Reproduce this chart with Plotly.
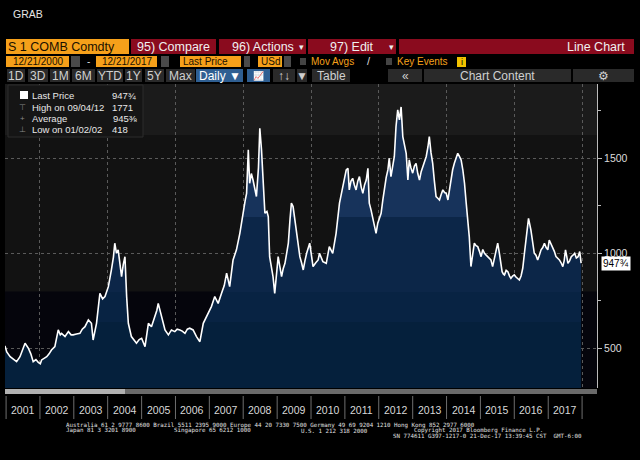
import plotly.graph_objects as go
import pandas as pd

# soybean front month (decimal year, cents/bu)
years = [
    2000.97, 2001.02, 2001.12, 2001.22, 2001.31, 2001.41, 2001.50, 2001.56, 2001.66, 2001.73,
    2001.80, 2001.88, 2001.95, 2002.01, 2002.05, 2002.12, 2002.20, 2002.27, 2002.34, 2002.44,
    2002.50, 2002.54, 2002.60, 2002.64, 2002.74, 2002.84, 2002.92, 2002.98, 2003.08, 2003.18,
    2003.25, 2003.33, 2003.43, 2003.52, 2003.57, 2003.62, 2003.67, 2003.77, 2003.85, 2003.92,
    2004.02, 2004.11, 2004.17, 2004.21, 2004.26, 2004.31, 2004.36, 2004.41, 2004.46, 2004.51,
    2004.56, 2004.61, 2004.70, 2004.78, 2004.85, 2004.93, 2005.00, 2005.10, 2005.20, 2005.29,
    2005.39, 2005.45, 2005.49, 2005.54, 2005.59, 2005.69, 2005.79, 2005.88, 2005.98, 2006.05,
    2006.13, 2006.20, 2006.28, 2006.35, 2006.42, 2006.52, 2006.62, 2006.72, 2006.82, 2006.92,
    2007.00, 2007.06, 2007.16, 2007.26, 2007.36, 2007.44, 2007.51, 2007.60, 2007.70, 2007.80,
    2007.90, 2008.00, 2008.06, 2008.10, 2008.15, 2008.19, 2008.24, 2008.29, 2008.34, 2008.39,
    2008.45, 2008.49, 2008.54, 2008.60, 2008.64, 2008.70, 2008.74, 2008.78, 2008.83, 2008.88,
    2008.93, 2008.98, 2009.03, 2009.08, 2009.13, 2009.18, 2009.23, 2009.28, 2009.33, 2009.38,
    2009.42, 2009.47, 2009.52, 2009.57, 2009.62, 2009.67, 2009.72, 2009.77, 2009.82, 2009.87,
    2009.96, 2010.01, 2010.06, 2010.14, 2010.21,
    2010.25, 2010.35, 2010.45, 2010.54, 2010.64, 2010.74, 2010.84, 2010.94, 2011.04, 2011.09,
    2011.13, 2011.18, 2011.23, 2011.28, 2011.33, 2011.38, 2011.43, 2011.48, 2011.53, 2011.58,
    2011.63, 2011.68, 2011.72, 2011.77, 2011.82, 2011.87, 2011.92, 2011.97, 2012.02, 2012.07,
    2012.12, 2012.17, 2012.22, 2012.27, 2012.31, 2012.36, 2012.41, 2012.46, 2012.51, 2012.56,
    2012.61, 2012.66, 2012.71, 2012.76, 2012.81, 2012.86, 2012.90, 2012.95, 2013.00, 2013.05,
    2013.10, 2013.15, 2013.20, 2013.25, 2013.30, 2013.35, 2013.40, 2013.45, 2013.49, 2013.54,
    2013.59, 2013.64, 2013.69, 2013.74, 2013.79, 2013.84, 2013.89, 2013.94, 2013.99, 2014.04,
    2014.09, 2014.13, 2014.18, 2014.23, 2014.28, 2014.33, 2014.38, 2014.43, 2014.48, 2014.53,
    2014.58, 2014.63, 2014.67, 2014.72, 2014.77, 2014.82, 2014.87, 2014.92, 2014.97, 2015.02,
    2015.07, 2015.12, 2015.17, 2015.22, 2015.27, 2015.31, 2015.36, 2015.41, 2015.46, 2015.51,
    2015.56, 2015.60, 2015.64, 2015.68, 2015.71, 2015.76, 2015.81, 2015.86, 2015.90, 2015.95,
    2016.00, 2016.05, 2016.10, 2016.15, 2016.20, 2016.25, 2016.30, 2016.35, 2016.42, 2016.49,
    2016.54, 2016.59, 2016.64, 2016.69, 2016.74, 2016.79, 2016.84, 2016.89, 2016.94, 2016.99,
    2017.03, 2017.08, 2017.13, 2017.18, 2017.23, 2017.28, 2017.33, 2017.38, 2017.43, 2017.47,
    2017.51, 2017.55, 2017.58, 2017.63, 2017.68, 2017.73, 2017.78, 2017.83, 2017.88, 2017.93,
    2017.97,
]
price = [
    512, 480, 455, 440, 429, 455, 500, 526, 499, 470,
    429, 440, 425, 418, 438, 445, 455, 470, 490, 508,
    560, 596, 570, 578, 561, 587, 570, 570, 575, 578,
    600, 613, 649, 631, 543, 590, 631, 789, 760, 772,
    824, 912, 980, 1053, 1000, 1018, 960, 877, 940, 982,
    772, 631, 561, 540, 526, 545, 552, 508, 631, 613,
    666, 700, 736, 700, 666, 596, 570, 596, 587, 600,
    596, 590, 578, 600, 605, 596, 561, 534, 631, 666,
    690, 719, 772, 736, 789, 830, 895, 824, 965, 1018,
    1105, 1228, 1280, 1316, 1545, 1369, 1420, 1386, 1340, 1299,
    1450, 1659, 1545, 1380, 1211, 1220, 1193, 982, 930, 877,
    789, 880, 982, 930, 877, 920, 947, 1000, 1053, 1180,
    1264, 1246, 1180, 1105, 1050, 982, 950, 912, 960, 1000,
    1053, 990, 930, 950, 965,
    1000, 956, 947, 1035, 1000, 1105, 1264, 1351, 1439, 1448,
    1334, 1380, 1395, 1360, 1334, 1380, 1404, 1350, 1316, 1360,
    1386, 1448, 1264, 1230, 1193, 1150, 1105, 1158, 1190, 1211,
    1280, 1351, 1400, 1439, 1501, 1404, 1460, 1510, 1668, 1756,
    1703, 1771, 1615, 1562, 1527, 1386, 1492, 1450, 1422, 1460,
    1474, 1420, 1386, 1430, 1457, 1480, 1510, 1560, 1615, 1530,
    1474, 1380, 1299, 1290, 1281, 1310, 1334, 1320, 1316, 1281,
    1340, 1404, 1440, 1474, 1500, 1527, 1510, 1492, 1440, 1369,
    1264, 1176, 1088, 930, 1000, 1053, 1040, 1035, 1010, 982,
    1020, 1000, 990, 982, 970, 965, 930, 975, 1018, 1053,
    1000, 950, 903, 890, 886, 910, 903, 880, 868, 880,
    886, 875, 868, 859, 880, 921, 1000, 1088, 1184, 1123,
    1060, 1000, 990, 965, 990, 1018, 1030, 1053, 1030, 1018,
    1070, 1050, 1035, 1010, 982, 975, 965, 950, 930, 960,
    1018, 980, 947, 960, 982, 990, 1000, 975, 982, 1009,
    947.75,
]
year_labels = list(range(2001, 2018))
grid_years = list(range(2002, 2019, 2))
y_ticks = [500, 1000, 1500]
y_minor = [750, 1250, 1750]
y_range = [290, 1892]

legend_rows = [("Last Price", "947¾"), ("High on 09/04/12", "1771"),
               ("Average", "945⅜"), ("Low on 01/02/02", "418")]


def to_date(t):
    y = int(t)
    return pd.Timestamp(year=y, month=1, day=1) + pd.Timedelta(days=(t - y) * 365.25)


dates = [to_date(t) for t in years]

W, H = 640, 460
FONT = "Liberation Sans, Arial, sans-serif"
ORANGE = "#f6a01a"
RED = "#8a0b1e"
BTN = "#2a2a2a"
BLUE = "#2f5f92"


def px(x):
    return x / W


def py(y):
    return 1 - y / H


shapes = []
annotations = []


def box(x0, y0, x1, y1, color, line=None):
    shapes.append(dict(type="rect", xref="paper", yref="paper", x0=px(x0), x1=px(x1),
                       y0=py(y1), y1=py(y0), fillcolor=color,
                       line=dict(width=1 if line else 0, color=line or color), layer="above"))


def text(x, y, s, size=11, color="#dddddd", anchor="left", family=FONT):
    annotations.append(dict(xref="paper", yref="paper", x=px(x), y=py(y), text=s, showarrow=False,
                            xanchor=anchor, yanchor="middle", borderpad=0,
                            font=dict(size=size, color=color, family=family)))


# title
text(12, 14, "GRAB", 10.5, "#e6e6e6")

# toolbar row 1
box(6, 39, 129, 54, ORANGE)
text(7, 46.5, "S 1 COMB Comdty", 12.5, "#1a1000")
for x0, x1, lab in [(131, 216, "95) Compare"), (219, 306, "96) Actions"), (308, 396, "97) Edit")]:
    box(x0, 39, x1, 54, RED)
    text((x0 + x1) / 2, 46.5, lab, 12.5, "#f0f0f0", "center")
text(301, 46.5, "▾", 9, "#f0f0f0", "center")
text(391, 46.5, "▾", 9, "#f0f0f0", "center")
box(399, 39, 634, 54, RED)
text(626, 46.5, "Line Chart", 12.5, "#f0f0f0", "right")

# toolbar row 2
for x0, x1, lab, al in [(6, 69, "12/21/2000", "c"), (96, 157, "12/21/2017", "c"),
                        (180, 241, "Last Price", "l"), (258, 282, "USd", "l")]:
    box(x0, 56, x1, 67, ORANGE)
    if al == "c":
        text((x0 + x1) / 2, 61.5, lab, 10, "#1a1000", "center")
    else:
        text(x0 + 2, 61.5, lab, 10, "#1a1000")
for x0, x1 in [(71, 80), (161, 169), (244, 250), (284, 291)]:
    box(x0, 56, x1, 67, "#4a4a4a")
text(88, 61.5, "-", 10, "#dddddd", "center")
box(300, 58, 306, 65, "#444444")
text(310, 61.5, "Mov Avgs", 10, ORANGE)
text(369, 61.5, "/", 11, "#dddddd", "center")
box(386, 58, 392, 65, "#444444")
text(396, 61.5, "Key Events", 10, ORANGE)
box(457, 57, 466, 67, "#f2c200")
text(461.5, 62, "i", 9, "#000000", "center")

# toolbar row 3
row3 = [(7, 25, "1D"), (28, 48, "3D"), (50, 70, "1M"), (72, 95, "6M"), (97, 123, "YTD"),
        (125, 142, "1Y"), (145, 164, "5Y"), (166, 195, "Max"), (273, 295, "↑↓"),
        (297, 307, "▼"), (312, 350, "Table"), (388, 422, "«"), (424, 571, "Chart Content"),
        (573, 634, "⚙")]
for x0, x1, lab in row3:
    box(x0, 69, x1, 82, BTN)
    text((x0 + x1) / 2, 75.5, lab, 12, "#d0d0d0", "center")
box(196, 69, 243, 82, BLUE)
text(219.5, 75.5, "Daily ▼", 12, "#ffffff", "center")
box(247, 69, 270, 82, BLUE)
text(258.5, 75.5, "📈", 9, "#ffffff", "center")

# legend box
box(8, 85, 143, 137, "#151515", "#2c2c2c")
box(20, 91, 28, 99, "#ffffff")
for i, (lab, val) in enumerate(legend_rows):
    yy = 95.5 + i * 11.5
    text(31, yy, lab, 9.5, "#e8e8e8")
    if i in (0, 2):
        text(138, yy, val, 9.5, "#e8e8e8", "right")
    else:
        text(111, yy, val, 9.5, "#e8e8e8")
for i, g in [(1, "⊤"), (2, "+"), (3, "⊥")]:
    text(22, 95.5 + i * 11.5, g, 8, "#888888", "center")

# scrollbar under plot
box(5, 389, 597, 394, "#6a6a6a")
box(5, 389, 125, 394, "#b0b0b0")

# year strip separators and labels
for yr in range(2001, 2019):
    shapes.append(dict(type="line", xref="x", yref="paper", x0=to_date(yr), x1=to_date(yr),
                       y0=py(419), y1=py(396), line=dict(color="#6e6e6e", width=1)))
for yr in year_labels:
    annotations.append(dict(xref="x", yref="paper", x=to_date(yr + 0.5), y=py(410), text=str(yr),
                            showarrow=False, xanchor="center", yanchor="middle",
                            font=dict(size=10.5, color="#d8d8d8", family=FONT)))

# footer
MONO = "DejaVu Sans Mono, monospace"
text(65, 425, "Australia 61 2 9777 8600 Brazil 5511 2395 9000 Europe 44 20 7330 7500 Germany 49 69 9204 1210 Hong Kong 852 2977 6000", 5.8, "#e0e0e0", family=MONO)
text(65, 430.5, "Japan 81 3 3201 8900", 5.8, "#e0e0e0", family=MONO)
text(173, 430.5, "Singapore 65 6212 1000", 5.8, "#e0e0e0", family=MONO)
text(300, 430.5, "U.S. 1 212 318 2000", 5.8, "#e0e0e0", family=MONO)
text(413, 430.5, "Copyright 2017 Bloomberg Finance L.P.", 5.8, "#e0e0e0", family=MONO)
text(392, 436, "SN 774611 G397-1217-0 21-Dec-17 13:39:45 CST  GMT-6:00", 5.8, "#e0e0e0", family=MONO)

# background bands inside plot
shapes.insert(0, dict(type="rect", xref="x domain", yref="y", x0=0, x1=1, y0=1623, y1=y_range[1],
                      fillcolor="#1b1b1b", line=dict(width=0), layer="below"))
shapes.insert(1, dict(type="rect", xref="x domain", yref="y", x0=0, x1=1, y0=y_range[0], y1=798,
                      fillcolor="#05050c", line=dict(width=0), layer="below"))

# last price tag
annotations.append(dict(xref="paper", yref="y", x=px(601), y=price[-1], text="947¾", showarrow=False,
                        xanchor="left", yanchor="middle", bgcolor="#ffffff", borderpad=1,
                        font=dict(size=10, color="#000000", family=FONT)))

span = y_range[1] - y_range[0]


def f(v):
    return (v - y_range[0]) / span


fill_scale = [
    [0, "#05203c"], [f(640), "#05203c"], [f(640), "#082343"], [f(798), "#082343"],
    [f(798), "#0c2648"], [f(1193), "#0c2648"], [f(1193), "#17335b"], [1, "#17335b"],
]

fig = go.Figure()
fig.add_trace(go.Scatter(
    x=dates, y=price, mode="lines", line=dict(color="#ffffff", width=1.6),
    fill="tozeroy",
    fillgradient=dict(type="vertical", colorscale=fill_scale, start=y_range[0], stop=y_range[1]),
    hoverinfo="skip", showlegend=False,
))

fig.update_layout(
    width=W, height=H, margin=dict(l=0, r=0, t=0, b=0),
    paper_bgcolor="#000000", plot_bgcolor="#121212",
    shapes=shapes, annotations=annotations, showlegend=False,
    font=dict(family=FONT, color="#dddddd"),
)
fig.update_xaxes(
    domain=[px(5), px(597)], type="date",
    range=[to_date(2000.97), to_date(2018.44)],
    tickvals=[to_date(y) for y in grid_years], showticklabels=False, ticks="",
    showgrid=True, gridcolor="#5a5a5a", griddash="dot", gridwidth=1,
    showline=False, zeroline=False, fixedrange=True,
)
fig.update_yaxes(
    domain=[py(388), py(84)], range=y_range, side="right",
    tickvals=y_ticks, ticks="outside", ticklen=4, tickcolor="#bbbbbb",
    tickfont=dict(size=10.5, color="#dcdcdc", family=FONT),
    minor=dict(tickvals=y_minor, ticks="outside", ticklen=3, tickcolor="#bbbbbb"),
    showline=True, linecolor="#bbbbbb", linewidth=1,
    showgrid=True, gridcolor="#5a5a5a", griddash="dot", gridwidth=1,
    zeroline=False, fixedrange=True,
)

# the page is photographed from its top-left corner, so drop the default body margin
fig.write_html("out.html", config={"displayModeBar": False},
               post_script="document.body.style.margin='0';")
